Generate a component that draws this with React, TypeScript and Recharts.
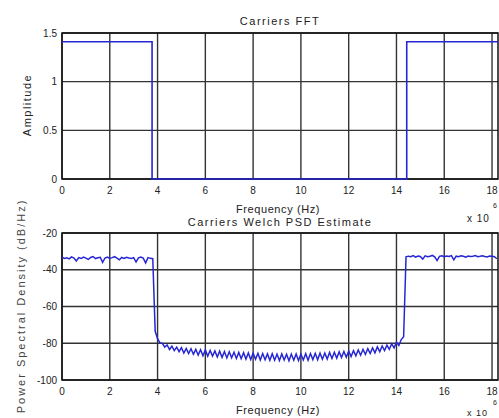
import { LineChart, Line, XAxis, YAxis, CartesianGrid, ReferenceArea } from 'recharts';

const freqTicks = [0, 2, 4, 6, 8, 10, 12, 14, 16, 18];
const ampTicks = [0, 0.5, 1, 1.5];
const psdTicks = [-100, -80, -60, -40, -20];

// Carriers FFT (frequency in MHz, amplitude)
const fftFreq = [0, 3.77, 3.77, 14.43, 14.43, 18.25];
const fftAmp = [1.41, 1.41, 0, 0, 1.41, 1.41];

// Welch PSD estimate, one value per 0.1 MHz bin starting at 0
const psdStep = 0.1;
const psdDb = [
  -33.2, -33.8, -33.5, -34.1, -33.0, -33.6, -35.2, -33.4, -33.9, -33.1,
  -33.7, -34.4, -33.3, -32.8, -33.9, -33.5, -33.2, -36.0, -33.6, -33.1,
  -33.8, -33.4, -32.9, -33.7, -34.6, -33.3, -33.8, -33.2, -33.6, -33.9,
  -33.4, -35.8, -33.5, -33.1, -33.7, -36.3, -33.4, -33.8, -34.0, -73.5,
  -77.5, -79.8, -80.0, -82.1, -80.9, -83.4, -81.6, -84.0, -82.1, -84.6,
  -82.4, -85.3, -82.8, -85.6, -83.0, -86.0, -83.3, -86.4, -83.5, -86.8,
  -83.6, -87.1, -83.9, -87.0, -84.2, -87.5, -84.3, -87.7, -84.5, -88.0,
  -84.6, -87.9, -84.9, -88.3, -85.0, -88.4, -85.1, -88.6, -85.3, -88.9,
  -85.4, -88.7, -85.5, -89.1, -85.6, -89.0, -85.8, -89.3, -85.7, -89.2,
  -85.9, -89.4, -85.8, -89.1, -86.0, -89.5, -85.9, -89.2, -85.8, -89.4,
  -85.9, -89.1, -85.7, -89.3, -85.6, -88.9, -85.5, -89.0, -85.4, -88.7,
  -85.3, -88.6, -85.0, -88.3, -84.9, -88.1, -84.7, -87.8, -84.5, -87.6,
  -84.2, -87.2, -84.0, -86.9, -83.6, -86.5, -83.3, -86.1, -82.9, -85.6,
  -82.5, -85.2, -82.0, -84.6, -81.5, -84.0, -81.0, -83.3, -80.3, -82.5,
  -79.4, -81.2, -78.0, -76.5, -33.0, -32.6, -32.9, -32.3, -33.1, -32.5,
  -32.8, -34.2, -32.4, -32.9, -32.6, -32.2, -33.0, -35.0, -32.7, -32.4,
  -32.9, -32.5, -32.8, -32.3, -34.6, -32.6, -32.9, -32.4, -32.7, -33.2,
  -32.5, -32.8, -32.6, -32.3, -32.9, -32.7, -32.4, -32.8, -33.0, -32.5,
  -32.6, -32.9, -34.0,
];

const fftData = fftFreq.map((f, i) => ({ f, v: fftAmp[i] }));
const psdData = psdDb.map((v, i) => ({ f: +(i * psdStep).toFixed(2), v }));

const font = '"Liberation Sans", Arial, sans-serif';
const tickStyle = { fontSize: 10, fill: '#222', fontFamily: font };
const gridColor = '#333';
const blue = '#2626d4';
const xMax = 18.25;

export default function App() {
  return (
    <div style={{ position: 'absolute', left: 0, top: 0, width: 499, height: 418, background: '#fff' }}>
      <div style={{ position: 'absolute', left: 0, top: 0 }}>
        <LineChart width={499} height={215} data={fftData} margin={{ top: 33, right: 1, bottom: 6, left: 0 }}>
          <CartesianGrid stroke={gridColor} strokeWidth={1.4} horizontalValues={ampTicks} verticalValues={freqTicks} />
          <XAxis dataKey="f" type="number" domain={[0, xMax]} ticks={freqTicks} allowDataOverflow
            tick={tickStyle} tickLine={false} axisLine={false} height={30} interval={0} />
          <YAxis type="number" domain={[0, 1.5]} ticks={ampTicks} tick={tickStyle} tickLine={false}
            axisLine={false} width={62} tickSize={3} interval={0} />
          <ReferenceArea x1={0} x2={xMax} y1={0} y2={1.5} fill="none" stroke="#111" strokeWidth={1.5} />
          <Line dataKey="v" type="linear" stroke={blue} strokeWidth={1.6} dot={false} isAnimationActive={false} />
        </LineChart>
      </div>
      <div style={{ position: 'absolute', left: 0, top: 200 }}>
        <LineChart width={499} height={218} data={psdData} margin={{ top: 33, right: 1, bottom: 8, left: 0 }}>
          <CartesianGrid stroke={gridColor} strokeWidth={1.4} horizontalValues={psdTicks} verticalValues={freqTicks} />
          <XAxis dataKey="f" type="number" domain={[0, xMax]} ticks={freqTicks} allowDataOverflow
            tick={tickStyle} tickLine={false} axisLine={false} height={30} interval={0} />
          <YAxis type="number" domain={[-100, -20]} ticks={psdTicks} tick={tickStyle} tickLine={false}
            axisLine={false} width={62} tickSize={3} interval={0} />
          <ReferenceArea x1={0} x2={xMax} y1={-100} y2={-20} fill="none" stroke="#111" strokeWidth={1.5} />
          <Line dataKey="v" type="linear" stroke={blue} strokeWidth={1.5} dot={false} isAnimationActive={false} />
        </LineChart>
      </div>
      <svg width={499} height={418} style={{ position: 'absolute', left: 0, top: 0, pointerEvents: 'none' }}
        fontFamily={font} fill="#222">
        <text x={280} y={25} fontSize={11} letterSpacing={1.5} textAnchor="middle">Carriers FFT</text>
        <text x={278} y={213} fontSize={11} letterSpacing={0.6} textAnchor="middle">Frequency (Hz)</text>
        <text x={467} y={222} fontSize={10} letterSpacing={1}>x 10</text>
        <text x={493} y={208} fontSize={7}>6</text>
        <text x={280} y={226} fontSize={11} letterSpacing={1.5} textAnchor="middle">Carriers Welch PSD Estimate</text>
        <text x={278} y={414} fontSize={11} letterSpacing={0.6} textAnchor="middle">Frequency (Hz)</text>
        <text x={467} y={416} fontSize={9} letterSpacing={1}>x 10</text>
        <text x={493} y={405} fontSize={7}>6</text>
        <text x={31} y={105} fontSize={11} letterSpacing={1.5} textAnchor="middle" transform="rotate(-90 31 105)">Amplitude</text>
        <text x={25} y={306} fontSize={11} letterSpacing={2} textAnchor="middle" fill="#444" transform="rotate(-90 25 306)">Power Spectral Density (dB/Hz)</text>
      </svg>
    </div>
  );
}
